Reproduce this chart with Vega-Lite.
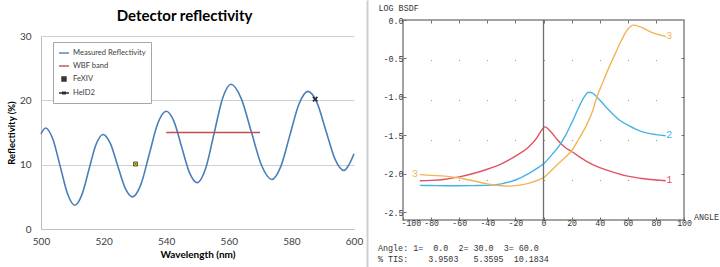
{
  "$schema": "https://vega.github.io/schema/vega-lite/v6.json",
  "background": "white",
  "padding": {"left": 6, "top": 0, "right": 0, "bottom": 0},
  "spacing": 4,
  "config": {
    "view": {"stroke": null},
    "legend": {
      "strokeColor": "#a6a6a6",
      "fillColor": "white",
      "padding": 5,
      "labelFont": "Lato",
      "labelFontSize": 7.6,
      "labelColor": "#404040",
      "labelOffset": 3,
      "symbolSize": 100,
      "symbolStrokeWidth": 1.4,
      "symbolBaseFillColor": "#ffff00",
      "rowPadding": 3
    }
  },
  "datasets": {
    "spectrum": [
      {"series": "Measured Reflectivity", "wavelength": 500, "reflectivity": 14.8},
      {"series": "Measured Reflectivity", "wavelength": 501.5, "reflectivity": 15.7},
      {"series": "Measured Reflectivity", "wavelength": 503.8, "reflectivity": 13.95},
      {"series": "Measured Reflectivity", "wavelength": 506.15, "reflectivity": 9.7},
      {"series": "Measured Reflectivity", "wavelength": 508.5, "reflectivity": 5.45},
      {"series": "Measured Reflectivity", "wavelength": 510.8, "reflectivity": 3.7},
      {"series": "Measured Reflectivity", "wavelength": 513.05, "reflectivity": 5.3},
      {"series": "Measured Reflectivity", "wavelength": 515.3, "reflectivity": 9.2},
      {"series": "Measured Reflectivity", "wavelength": 517.55, "reflectivity": 13.1},
      {"series": "Measured Reflectivity", "wavelength": 519.8, "reflectivity": 14.7},
      {"series": "Measured Reflectivity", "wavelength": 522.15, "reflectivity": 13.3},
      {"series": "Measured Reflectivity", "wavelength": 524.5, "reflectivity": 9.85},
      {"series": "Measured Reflectivity", "wavelength": 526.85, "reflectivity": 6.4},
      {"series": "Measured Reflectivity", "wavelength": 529.2, "reflectivity": 5.0},
      {"series": "Measured Reflectivity", "wavelength": 531.9, "reflectivity": 6.9},
      {"series": "Measured Reflectivity", "wavelength": 534.6, "reflectivity": 11.65},
      {"series": "Measured Reflectivity", "wavelength": 537.3, "reflectivity": 16.4},
      {"series": "Measured Reflectivity", "wavelength": 540, "reflectivity": 18.3},
      {"series": "Measured Reflectivity", "wavelength": 542.5, "reflectivity": 16.7},
      {"series": "Measured Reflectivity", "wavelength": 544.95, "reflectivity": 12.75},
      {"series": "Measured Reflectivity", "wavelength": 547.4, "reflectivity": 8.8},
      {"series": "Measured Reflectivity", "wavelength": 549.9, "reflectivity": 7.2},
      {"series": "Measured Reflectivity", "wavelength": 552.6, "reflectivity": 9.4},
      {"series": "Measured Reflectivity", "wavelength": 555.3, "reflectivity": 14.85},
      {"series": "Measured Reflectivity", "wavelength": 558.0, "reflectivity": 20.3},
      {"series": "Measured Reflectivity", "wavelength": 560.7, "reflectivity": 22.5},
      {"series": "Measured Reflectivity", "wavelength": 563.95, "reflectivity": 20.3},
      {"series": "Measured Reflectivity", "wavelength": 567.2, "reflectivity": 15.1},
      {"series": "Measured Reflectivity", "wavelength": 570.45, "reflectivity": 9.9},
      {"series": "Measured Reflectivity", "wavelength": 573.7, "reflectivity": 7.7},
      {"series": "Measured Reflectivity", "wavelength": 576.6, "reflectivity": 9.7},
      {"series": "Measured Reflectivity", "wavelength": 579.5, "reflectivity": 14.55},
      {"series": "Measured Reflectivity", "wavelength": 582.4, "reflectivity": 19.4},
      {"series": "Measured Reflectivity", "wavelength": 585.3, "reflectivity": 21.4},
      {"series": "Measured Reflectivity", "wavelength": 588.2, "reflectivity": 19.6},
      {"series": "Measured Reflectivity", "wavelength": 591.05, "reflectivity": 15.25},
      {"series": "Measured Reflectivity", "wavelength": 593.9, "reflectivity": 10.9},
      {"series": "Measured Reflectivity", "wavelength": 596.8, "reflectivity": 9.1},
      {"series": "Measured Reflectivity", "wavelength": 598.4, "reflectivity": 10.0},
      {"series": "Measured Reflectivity", "wavelength": 600, "reflectivity": 11.7},
      {"series": "WBF band", "wavelength": 540, "reflectivity": 15},
      {"series": "WBF band", "wavelength": 570, "reflectivity": 15}
    ],
    "lines": [
      {"series": "FeXIV", "wavelength": 530.2, "reflectivity": 10.1},
      {"series": "HeID2", "wavelength": 587.6, "reflectivity": 20.2}
    ],
    "bsdf": [
      {"curve": "1", "angle": -88, "logBsdf": -2.09},
      {"curve": "1", "angle": -80, "logBsdf": -2.085},
      {"curve": "1", "angle": -70, "logBsdf": -2.07},
      {"curve": "1", "angle": -60, "logBsdf": -2.04},
      {"curve": "1", "angle": -50, "logBsdf": -1.995},
      {"curve": "1", "angle": -40, "logBsdf": -1.94},
      {"curve": "1", "angle": -30, "logBsdf": -1.87},
      {"curve": "1", "angle": -20, "logBsdf": -1.77},
      {"curve": "1", "angle": -10, "logBsdf": -1.64},
      {"curve": "1", "angle": -5, "logBsdf": -1.54},
      {"curve": "1", "angle": -2, "logBsdf": -1.45},
      {"curve": "1", "angle": 0, "logBsdf": -1.4},
      {"curve": "1", "angle": 1, "logBsdf": -1.39},
      {"curve": "1", "angle": 3, "logBsdf": -1.41},
      {"curve": "1", "angle": 6, "logBsdf": -1.47},
      {"curve": "1", "angle": 10, "logBsdf": -1.56},
      {"curve": "1", "angle": 15, "logBsdf": -1.65},
      {"curve": "1", "angle": 20, "logBsdf": -1.71},
      {"curve": "1", "angle": 30, "logBsdf": -1.83},
      {"curve": "1", "angle": 40, "logBsdf": -1.92},
      {"curve": "1", "angle": 50, "logBsdf": -1.98},
      {"curve": "1", "angle": 60, "logBsdf": -2.03},
      {"curve": "1", "angle": 70, "logBsdf": -2.06},
      {"curve": "1", "angle": 80, "logBsdf": -2.08},
      {"curve": "1", "angle": 87, "logBsdf": -2.09},
      {"curve": "2", "angle": -88, "logBsdf": -2.15},
      {"curve": "2", "angle": -80, "logBsdf": -2.152},
      {"curve": "2", "angle": -70, "logBsdf": -2.155},
      {"curve": "2", "angle": -60, "logBsdf": -2.155},
      {"curve": "2", "angle": -50, "logBsdf": -2.153},
      {"curve": "2", "angle": -40, "logBsdf": -2.15},
      {"curve": "2", "angle": -30, "logBsdf": -2.13},
      {"curve": "2", "angle": -20, "logBsdf": -2.08},
      {"curve": "2", "angle": -10, "logBsdf": -1.99},
      {"curve": "2", "angle": -3, "logBsdf": -1.91},
      {"curve": "2", "angle": 0, "logBsdf": -1.87},
      {"curve": "2", "angle": 6, "logBsdf": -1.75},
      {"curve": "2", "angle": 11, "logBsdf": -1.64},
      {"curve": "2", "angle": 16, "logBsdf": -1.49},
      {"curve": "2", "angle": 20, "logBsdf": -1.34},
      {"curve": "2", "angle": 25, "logBsdf": -1.14},
      {"curve": "2", "angle": 29, "logBsdf": -1.0},
      {"curve": "2", "angle": 32, "logBsdf": -0.94},
      {"curve": "2", "angle": 35, "logBsdf": -0.95},
      {"curve": "2", "angle": 38, "logBsdf": -1.0},
      {"curve": "2", "angle": 42, "logBsdf": -1.08},
      {"curve": "2", "angle": 47, "logBsdf": -1.18},
      {"curve": "2", "angle": 54, "logBsdf": -1.3},
      {"curve": "2", "angle": 61, "logBsdf": -1.375},
      {"curve": "2", "angle": 70, "logBsdf": -1.45},
      {"curve": "2", "angle": 80, "logBsdf": -1.49},
      {"curve": "2", "angle": 87, "logBsdf": -1.505},
      {"curve": "3", "angle": -88, "logBsdf": -2.01},
      {"curve": "3", "angle": -80, "logBsdf": -2.02},
      {"curve": "3", "angle": -70, "logBsdf": -2.03},
      {"curve": "3", "angle": -58, "logBsdf": -2.06},
      {"curve": "3", "angle": -50, "logBsdf": -2.09},
      {"curve": "3", "angle": -40, "logBsdf": -2.13},
      {"curve": "3", "angle": -30, "logBsdf": -2.155},
      {"curve": "3", "angle": -25, "logBsdf": -2.16},
      {"curve": "3", "angle": -18, "logBsdf": -2.15},
      {"curve": "3", "angle": -10, "logBsdf": -2.12},
      {"curve": "3", "angle": -3, "logBsdf": -2.075},
      {"curve": "3", "angle": 0, "logBsdf": -2.05},
      {"curve": "3", "angle": 6, "logBsdf": -1.95},
      {"curve": "3", "angle": 13, "logBsdf": -1.825},
      {"curve": "3", "angle": 20, "logBsdf": -1.7},
      {"curve": "3", "angle": 25, "logBsdf": -1.55},
      {"curve": "3", "angle": 30, "logBsdf": -1.39},
      {"curve": "3", "angle": 35, "logBsdf": -1.18},
      {"curve": "3", "angle": 38, "logBsdf": -1.0},
      {"curve": "3", "angle": 42, "logBsdf": -0.82},
      {"curve": "3", "angle": 47, "logBsdf": -0.6},
      {"curve": "3", "angle": 51, "logBsdf": -0.44},
      {"curve": "3", "angle": 55, "logBsdf": -0.28},
      {"curve": "3", "angle": 60, "logBsdf": -0.12},
      {"curve": "3", "angle": 64, "logBsdf": -0.067},
      {"curve": "3", "angle": 69, "logBsdf": -0.09},
      {"curve": "3", "angle": 77, "logBsdf": -0.16},
      {"curve": "3", "angle": 84, "logBsdf": -0.2},
      {"curve": "3", "angle": 87, "logBsdf": -0.215}
    ],
    "curveLabels": [
      {"curve": "1", "angle": 89.5, "logBsdf": -2.085},
      {"curve": "2", "angle": 89.5, "logBsdf": -1.5},
      {"curve": "3", "angle": 89.5, "logBsdf": -0.21},
      {"curve": "3", "angle": -91.5, "logBsdf": -2.0}
    ]
  },
  "hconcat": [
    {
      "spacing": 0,
      "vconcat": [
        {"width": 1, "height": 9, "data": {"values": []}, "mark": "point"},
        {
          "width": 313,
          "height": 193,
          "title": {"text": "Detector reflectivity", "frame": "bounds", "font": "Lato", "fontSize": 15, "fontWeight": "bold", "color": "#000000", "offset": 7},
          "layer": [
            {
              "data": {"name": "lines"},
              "transform": [{"filter": "datum.series === 'FeXIV'"}],
              "mark": {"type": "point", "filled": true, "size": 100, "strokeWidth": 0.8, "opacity": 1},
              "encoding": {
                "x": {
                  "field": "wavelength", "type": "quantitative",
                  "scale": {"domain": [500, 600]},
                  "axis": {
                    "values": [500, 520, 540, 560, 580, 600], "grid": false, "ticks": false,
                    "domainColor": "#bfbfbf", "labelFont": "Lato", "labelFontSize": 10, "labelColor": "#404040",
                    "labelPadding": 7, "labelFlush": false, "labelOverlap": false,
                    "title": "Wavelength (nm)", "titleFont": "Lato", "titleFontSize": 10, "titleFontWeight": "bold",
                    "titleColor": "#000000", "titlePadding": 3
                  }
                },
                "y": {
                  "field": "reflectivity", "type": "quantitative",
                  "scale": {"domain": [0, 30]},
                  "axis": {
                    "values": [0, 5, 10, 15, 20, 25, 30], "grid": true, "gridColor": "#cfcfcf", "ticks": false,
                    "domainColor": "#bfbfbf", "labelFont": "Lato", "labelFontSize": 10, "labelColor": "#404040",
                    "labelPadding": 10, "labelOverlap": false, "title": "Reflectivity (%)", "titleFont": "Lato", "titleFontSize": 9.5,
                    "titleFontWeight": "bold", "titleColor": "#000000", "titlePadding": 3
                  }
                },
                "fill": {
                  "field": "series", "type": "nominal",
                  "scale": {
                    "domain": ["Measured Reflectivity", "WBF band", "FeXIV", "HeID2"],
                    "range": ["transparent", "transparent", "#ffff00", "transparent"]
                  },
                  "legend": {"title": null, "orient": "none", "legendX": 12, "legendY": 42}
                },
                "stroke": {
                  "field": "series", "type": "nominal",
                  "scale": {
                    "domain": ["Measured Reflectivity", "WBF band", "FeXIV", "HeID2"],
                    "range": ["#4a7ebb", "#c0504d", "#333333", "#2b2b3b"]
                  },
                  "legend": {"title": null, "orient": "none", "legendX": 12, "legendY": 42}
                },
                "shape": {
                  "field": "series", "type": "nominal",
                  "scale": {
                    "domain": ["Measured Reflectivity", "WBF band", "FeXIV", "HeID2"],
                    "range": [
                      "M-1,0H1",
                      "M-1,0H1",
                      "M-0.4,-0.4H0.4V0.4H-0.4Z M-0.27,-0.27L0.27,0.27 M0.27,-0.27L-0.27,0.27",
                      "M-1,0H1 M-0.3,-0.3L0.3,0.3 M0.3,-0.3L-0.3,0.3"
                    ]
                  },
                  "legend": {"title": null, "orient": "none", "legendX": 12, "legendY": 42}
                }
              }
            },
            {
              "data": {"name": "spectrum"},
              "mark": {"type": "line", "interpolate": "monotone", "strokeWidth": 1.6},
              "encoding": {
                "x": {"field": "wavelength", "type": "quantitative"},
                "y": {"field": "reflectivity", "type": "quantitative"},
                "stroke": {"field": "series", "type": "nominal"}
              }
            },
            {
              "data": {"name": "lines"},
              "transform": [{"filter": "datum.series === 'HeID2'"}],
              "mark": {"type": "point", "shape": "M-0.45,-0.45L0.45,0.45M0.45,-0.45L-0.45,0.45", "size": 100, "strokeWidth": 1.8, "filled": false, "opacity": 1},
              "encoding": {
                "x": {"field": "wavelength", "type": "quantitative"},
                "y": {"field": "reflectivity", "type": "quantitative"},
                "stroke": {"field": "series", "type": "nominal"}
              }
            }
          ]
        }
      ]
    },
    {
      "width": 6,
      "height": 267,
      "data": {"values": []},
      "mark": "point",
      "encoding": {
        "y": {
          "field": "v", "type": "quantitative", "scale": {"domain": [0, 1]},
          "axis": {"domain": true, "domainColor": "#cfcfcf", "domainWidth": 2, "labels": false, "ticks": false, "grid": false, "title": null}
        }
      }
    },
    {
      "spacing": 0,
      "vconcat": [
        {"width": 1, "height": 2, "data": {"values": []}, "mark": "point"},
        {
          "width": 281,
          "height": 200,
          "view": {"stroke": "#858585", "strokeWidth": 1.5},
          "title": {
            "text": ["Angle: 1=\u00a0\u00a00.0\u00a0\u00a02=\u00a030.0\u00a0\u00a03=\u00a060.0", "%\u00a0TIS:\u00a0\u00a0\u00a0\u00a03.9503\u00a0\u00a0\u00a05.3595\u00a0\u00a010.1834"],
            "orient": "bottom", "anchor": "start", "frame": "group", "align": "left", "dx": -25, "offset": 18,
            "font": "Liberation Mono", "fontSize": 8.4, "fontWeight": "normal", "lineHeight": 11, "color": "#333333"
          },
          "resolve": {"axis": {"x": "independent", "y": "independent"}},
          "layer": [
            {
              "data": {"name": "bsdf"},
              "mark": {"type": "line", "interpolate": "monotone", "strokeWidth": 1.4},
              "encoding": {
                "x": {
                  "field": "angle", "type": "quantitative",
                  "scale": {"domain": [-100, 100]},
                  "axis": {
                    "values": [-100, -80, -60, -40, -20, 0, 20, 40, 60, 80, 100],
                    "labelExpr": "replace(format(datum.value, 'd'), '\u2212', '-')",
                    "labelAlign": {"condition": {"test": "datum.value === -100", "value": "left"}, "value": "center"},
                    "labelOffset": {"condition": {"test": "datum.value === -100", "value": -2}, "value": 0},
                    "labelFont": "Liberation Mono", "labelFontSize": 8.2, "labelColor": "#333333",
                    "labelPadding": 2, "labelFlush": false, "labelOverlap": false,
                    "domain": false, "ticks": true, "tickSize": -3, "tickColor": "#707070",
                    "grid": true, "gridColor": "#9a9a9a", "gridWidth": 1.2, "gridDash": [1.2, 38.8], "gridDashOffset": 0.6,
                    "title": "ANGLE", "titleX": 303, "titleY": -4, "titleAlign": "center", "titleBaseline": "middle",
                    "titleFont": "Liberation Mono", "titleFontSize": 8.4, "titleFontWeight": "normal", "titleColor": "#333333"
                  }
                },
                "y": {
                  "field": "logBsdf", "type": "quantitative",
                  "scale": {"domain": [-2.5, 0]},
                  "axis": {
                    "values": [-2.5, -2, -1.5, -1, -0.5, 0],
                    "labelExpr": "replace(format(datum.value, '.1f'), '\u2212', '-')",
                    "labelFont": "Liberation Mono", "labelFontSize": 8.4, "labelColor": "#333333",
                    "labelPadding": 3, "labelOverlap": false,
                    "domain": false, "ticks": true, "tickSize": -3, "tickColor": "#707070", "grid": false,
                    "title": "LOG BSDF", "titleAngle": 0, "titleX": -25, "titleY": -13, "titleAlign": "left",
                    "titleBaseline": "middle", "titleFont": "Liberation Mono", "titleFontSize": 8.4,
                    "titleFontWeight": "normal", "titleColor": "#333333"
                  }
                },
                "color": {
                  "field": "curve", "type": "nominal",
                  "scale": {"domain": ["1", "2", "3"], "range": ["#e2535f", "#46b3e6", "#f2b456"]},
                  "legend": null
                }
              }
            },
            {
              "data": {"values": [{"angle": 0}]},
              "mark": {"type": "rule", "color": "#6e6e6e", "strokeWidth": 1.3},
              "encoding": {
                "x": {
                  "field": "angle", "type": "quantitative",
                  "axis": {
                    "orient": "top", "values": [-80, -60, -40, -20, 0, 20, 40, 60, 80],
                    "labels": false, "domain": false, "ticks": true, "tickSize": -3, "tickColor": "#707070",
                    "grid": false, "title": null
                  }
                }
              }
            },
            {
              "data": {"name": "curveLabels"},
              "mark": {"type": "text", "font": "Liberation Mono", "fontSize": 10, "align": "center", "baseline": "middle"},
              "encoding": {
                "x": {"field": "angle", "type": "quantitative", "axis": null},
                "y": {
                  "field": "logBsdf", "type": "quantitative",
                  "axis": {
                    "orient": "right", "values": [-2, -1.5, -1, -0.5],
                    "labels": false, "domain": false, "ticks": true, "tickSize": -3, "tickColor": "#707070",
                    "grid": false, "title": null
                  }
                },
                "text": {"field": "curve"},
                "color": {"field": "curve", "type": "nominal", "legend": null}
              }
            }
          ]
        }
      ]
    }
  ]
}
